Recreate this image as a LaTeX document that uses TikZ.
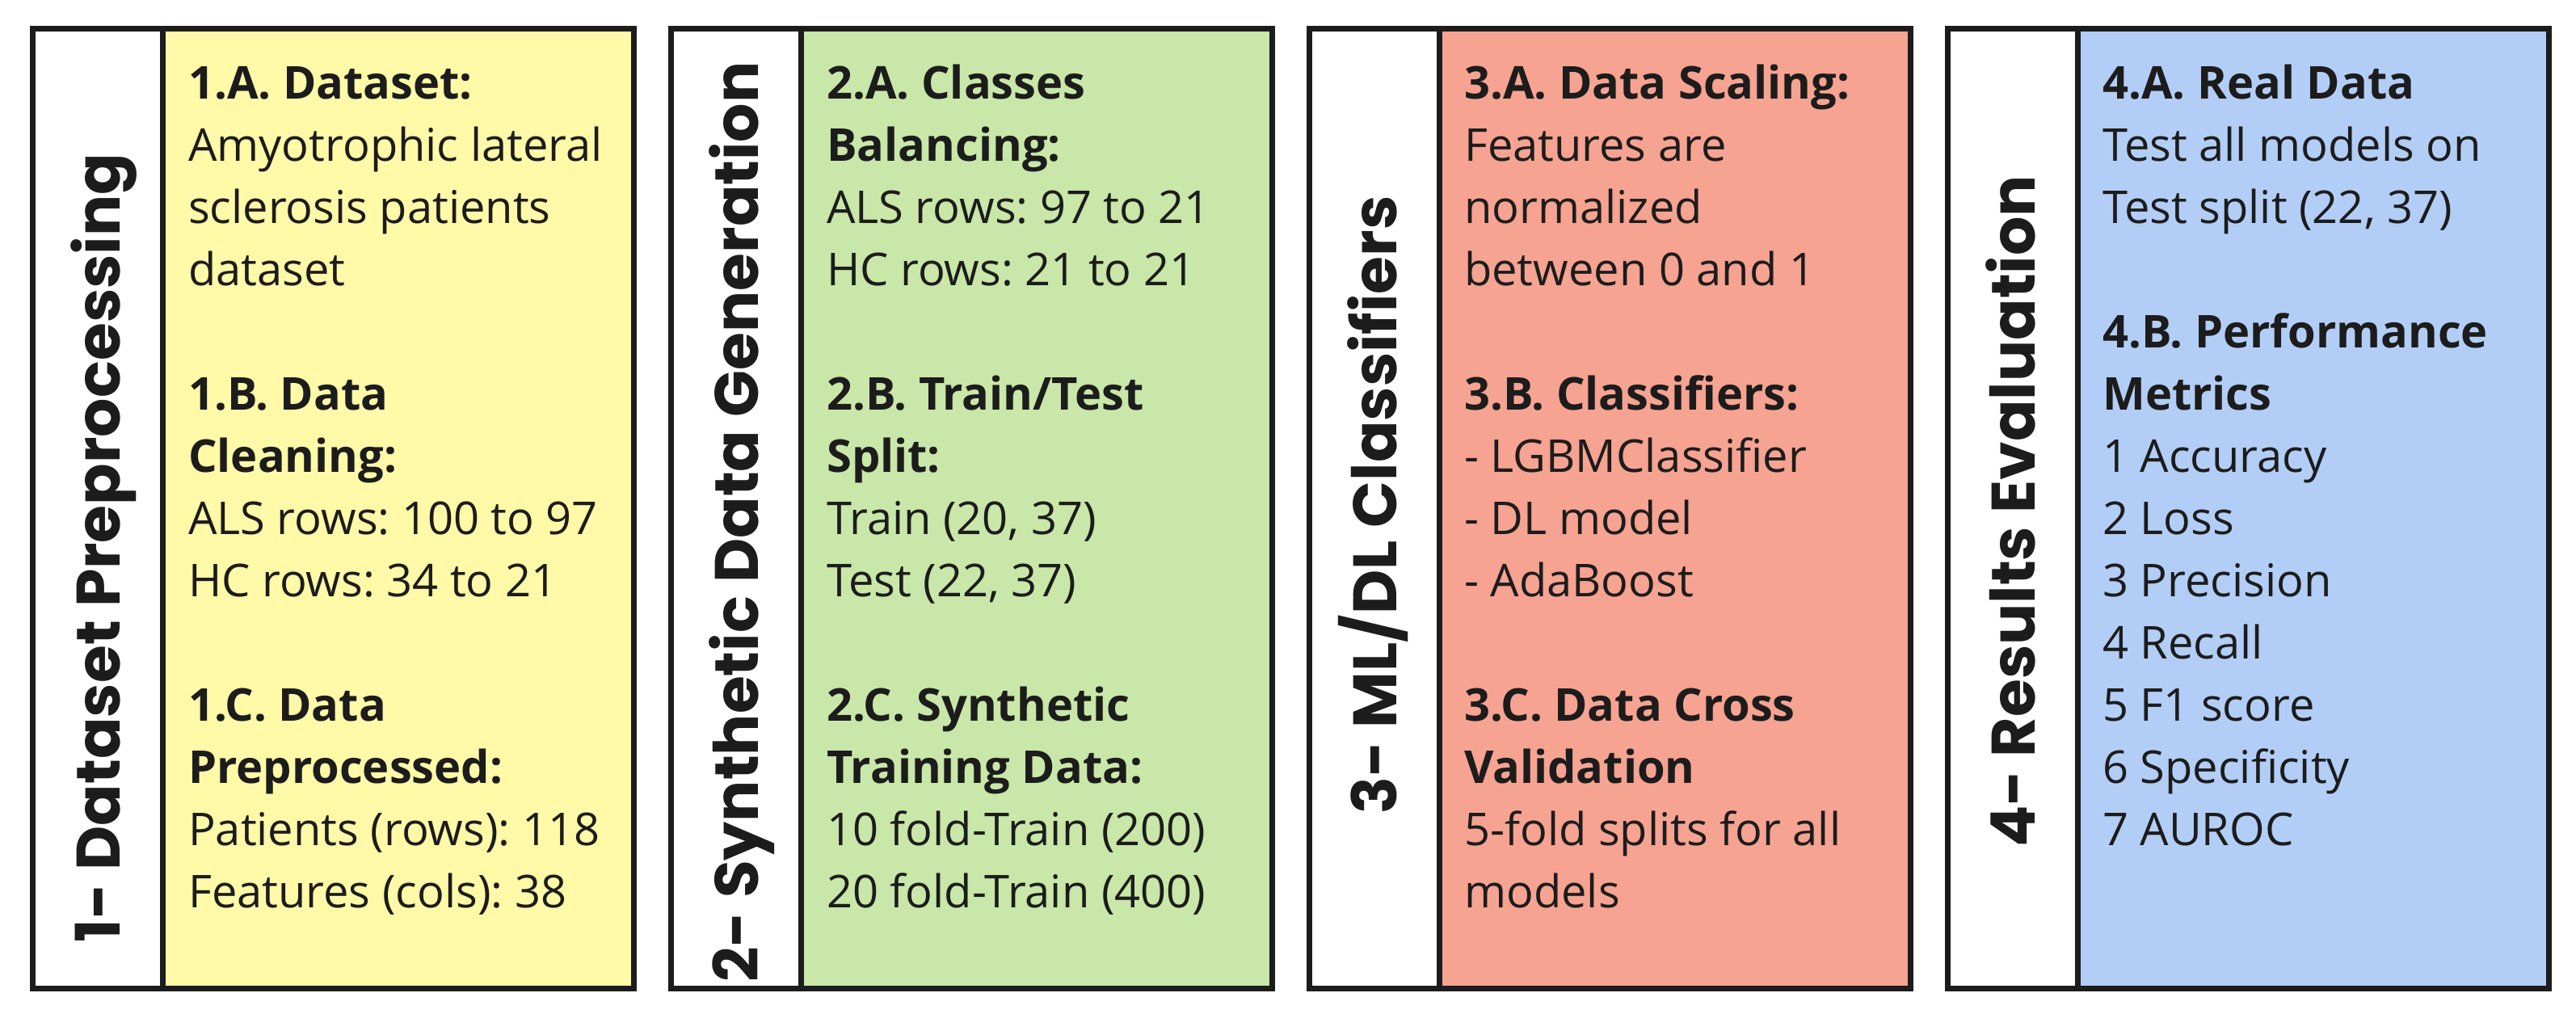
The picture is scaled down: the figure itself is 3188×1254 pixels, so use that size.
\documentclass[tikz,border=0pt]{standalone}
\usepackage{fontspec}
\setmainfont{Open Sans}
\newfontfamily\lblfont{Poppins}
\frenchspacing
\definecolor{edge}{HTML}{1C1C1C}
\definecolor{fillA}{HTML}{FFF9A8}
\definecolor{fillB}{HTML}{C9E7A8}
\definecolor{fillC}{HTML}{F6A392}
\definecolor{fillD}{HTML}{B3CEF6}
% one panel: white title strip + coloured body; #1 index, #2 x offset, #3 colour
\newcommand\stagepanel[3]{%
  \node[strip] (s#1) at ({40.5+#2},35.5) {};
  \node[body, fill=#3] (b#1) at ({201+#2},35.5) {};
}
% text lines of a panel: #1 index, #2 x of text, #3 list line/text
\newcommand\stagelines[3]{%
  \foreach \k/\t in {#3} {\node[txt] (t#1l\k) at (#2,{122+77*(\k-1)}) {\t};}
}
\begin{document}
\begin{tikzpicture}[x=1pt,y=-1pt,
  frame/.style={draw=edge, line width=7pt, anchor=north west, inner sep=0pt, outer sep=0pt},
  strip/.style={frame, fill=white, minimum width=160.5pt, minimum height=1188pt},
  body/.style={frame, minimum width=583.5pt, minimum height=1188pt},
  txt/.style={anchor=base west, inner sep=0pt, text=edge, font=\fontsize{56}{77}\selectfont},
  lbl/.style={anchor=base, rotate=90, inner sep=0pt, text=edge, font=\lblfont\bfseries\fontsize{76}{76}\selectfont}]
\useasboundingbox (0,0) rectangle (3188,1254);

\stagepanel{1}{0}{fillA}
\stagepanel{2}{790}{fillB}
\stagepanel{3}{1580}{fillC}
\stagepanel{4}{2370}{fillD}

\node[lbl] (h1) at (148,678) {1- Dataset Preprocessing};
\node[lbl] (h2) at (938,646) {2- Synthetic Data Generation};
\node[lbl] (h3) at (1728,625) {3- ML/DL Classifiers};
\node[lbl] (h4) at (2518,633) {4- Results Evaluation};

\stagelines{1}{233}{1/{\textbf{1.A. Dataset:}}, 2/{Amyotrophic lateral}, 3/{sclerosis patients}, 4/{dataset},
  6/{\textbf{1.B. Data}}, 7/{\textbf{Cleaning:}}, 8/{ALS rows: 100 to 97}, 9/{HC rows: 34 to 21},
  11/{\textbf{1.C. Data}}, 12/{\textbf{Preprocessed:}}, 13/{Patients (rows): 118}, 14/{Features (cols): 38}}

\stagelines{2}{1023}{1/{\textbf{2.A. Classes}}, 2/{\textbf{Balancing:}}, 3/{ALS rows: 97 to 21}, 4/{HC rows: 21 to 21},
  6/{\textbf{2.B. Train/Test}}, 7/{\textbf{Split:}}, 8/{Train (20, 37)}, 9/{Test (22, 37)},
  11/{\textbf{2.C. Synthetic}}, 12/{\textbf{Training Data:}}, 13/{10 fold-Train (200)}, 14/{20 fold-Train (400)}}

\stagelines{3}{1812}{1/{\textbf{3.A. Data Scaling:}}, 2/{Features are}, 3/{normalized}, 4/{between 0 and 1},
  6/{\textbf{3.B. Classifiers:}}, 7/{- LGBMClassifier}, 8/{- DL model}, 9/{- AdaBoost},
  11/{\textbf{3.C. Data Cross}}, 12/{\textbf{Validation}}, 13/{5-fold splits for all}, 14/{models}}

\stagelines{4}{2602}{1/{\textbf{4.A. Real Data}}, 2/{Test all models on}, 3/{Test split (22, 37)},
  5/{\textbf{4.B. Performance}}, 6/{\textbf{Metrics}}, 7/{1 Accuracy}, 8/{2 Loss}, 9/{3 Precision},
  10/{4 Recall}, 11/{5 F1 score}, 12/{6 Specificity}, 13/{7 AUROC}}
\end{tikzpicture}
\end{document}
